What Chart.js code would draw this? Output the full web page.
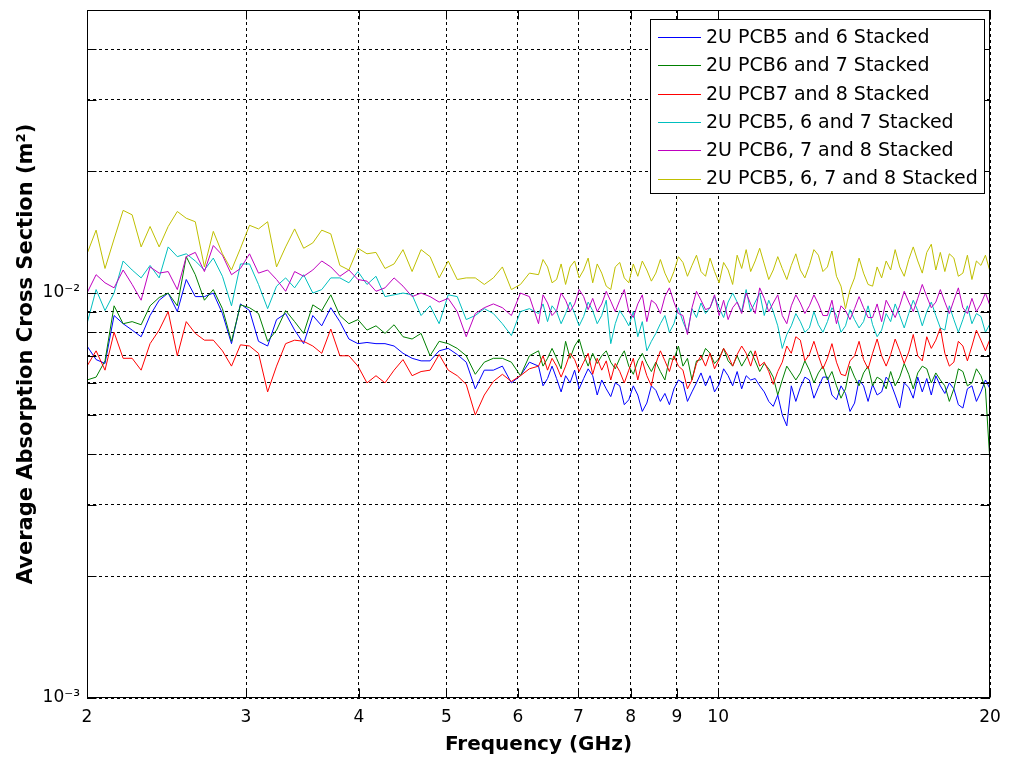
<!DOCTYPE html>
<html>
<head>
<meta charset="utf-8">
<script src="https://cdn.jsdelivr.net/npm/chart.js@4"></script>
<style>
  html, body { margin: 0; padding: 0; background: #fff; }
</style>
</head>
<body>
<canvas id="absChart" width="1009" height="760"></canvas>
<script>
// frequency samples (GHz): 0.01 decade apart up to 6.3 GHz, 0.005 decade above
const freqGHz = [
  2.000, 2.047, 2.094, 2.143, 2.193, 2.244, 2.296, 2.349, 2.404, 2.460,
  2.518, 2.576, 2.636, 2.698, 2.760, 2.825, 2.891, 2.958, 3.027, 3.097,
  3.170, 3.243, 3.319, 3.396, 3.475, 3.557, 3.639, 3.724, 3.811, 3.900,
  3.991, 4.084, 4.179, 4.276, 4.376, 4.477, 4.582, 4.688, 4.797, 4.909,
  5.024, 5.141, 5.260, 5.383, 5.508, 5.637, 5.768, 5.902, 6.040, 6.180,
  6.325,
  6.398, 6.472, 6.547, 6.623, 6.700, 6.777, 6.855, 6.935, 7.015, 7.096,
  7.178, 7.262, 7.346, 7.431, 7.517, 7.604, 7.692, 7.781, 7.871, 7.962,
  8.054, 8.147, 8.241, 8.337, 8.434, 8.531, 8.630, 8.730, 8.831, 8.933,
  9.036, 9.141, 9.247, 9.354, 9.462, 9.572, 9.683, 9.795, 9.908, 10.024,
  10.140, 10.257, 10.376, 10.496, 10.618, 10.740, 10.864, 10.990, 11.117, 11.247,
  11.377, 11.508, 11.641, 11.776, 11.912, 12.050, 12.190, 12.331, 12.474, 12.619,
  12.765, 12.912, 13.062, 13.213, 13.366, 13.521, 13.678, 13.836, 13.996, 14.159,
  14.323, 14.488, 14.656, 14.826, 14.998, 15.171, 15.347, 15.524, 15.704, 15.887,
  16.071, 16.257, 16.445, 16.635, 16.828, 17.022, 17.219, 17.419, 17.621, 17.825,
  18.031, 18.239, 18.450, 18.664, 18.880, 19.099, 19.320, 19.543, 19.769, 20.000
];

const seriesNames = [
  '2U PCB5 and 6 Stacked',
  '2U PCB6 and 7 Stacked',
  '2U PCB7 and 8 Stacked',
  '2U PCB5, 6 and 7 Stacked',
  '2U PCB6, 7 and 8 Stacked',
  '2U PCB5, 6, 7 and 8 Stacked'
];
const seriesColors = ['#0000ff', '#008000', '#ff0000', '#00bfbf', '#bf00bf', '#bfbf00'];

// average absorption cross section, in units of 1e-3 m^2
const pcb56 = [
  7.4, 6.85, 6.7, 8.8, 8.4, 8.1, 7.8, 8.8, 9.6, 10.0, 9.0, 10.8, 9.8,
  9.8, 10.0, 8.9, 7.5, 9.4, 9.05, 7.6, 7.4, 8.6, 8.9, 8.1, 7.5, 8.8,
  8.3, 9.2, 8.5, 7.7, 7.5, 7.55, 7.5, 7.5, 7.4, 7.1, 6.9, 6.8,
  6.8, 7.2, 7.3, 7.05, 6.75, 5.8, 6.45, 6.45, 6.6, 6.0, 6.25, 6.75, 6.6,
  5.9, 6.15, 6.6, 6.15, 5.7, 6.25, 6.0, 6.45, 5.8, 6.15, 6.5, 6.25, 5.6, 6.1, 5.8, 5.55,
  6.0, 5.9, 5.3, 5.45, 5.9, 5.6, 5.1, 5.35, 5.9, 5.75, 5.4, 5.65, 5.3, 5.8, 6.1, 6.0,
  5.4, 5.7, 6.0, 6.35, 5.9, 6.25, 5.7, 5.95, 6.5, 6.25, 5.9, 6.4, 5.8, 6.25, 6.1, 6.15,
  5.9, 5.7, 5.4, 5.25, 5.6, 5.0, 4.7, 5.9, 5.4, 5.85, 6.2, 6.1, 5.5, 5.85, 6.2, 6.2,
  5.6, 5.45, 5.9, 5.65, 5.1, 5.35, 6.1, 5.9, 5.4, 5.95, 5.6, 5.7, 6.2, 6.0, 5.6, 5.2,
  6.0, 5.85, 5.5, 6.2, 5.7, 6.15, 5.6, 6.25, 5.9, 5.65, 6.0, 5.8, 5.3, 5.2, 5.8, 5.9,
  5.4, 5.7, 6.1, 5.8
];
const pcb67 = [
  6.1, 6.2, 6.8, 9.3, 8.4, 8.5, 8.35, 9.3, 9.75, 10.0, 9.3, 12.3, 11.1,
  9.6, 10.2, 9.15, 7.6, 9.35, 9.2, 8.9, 7.6, 8.1, 9.05, 8.5, 7.95, 9.35,
  9.05, 9.9, 8.8, 8.4, 8.6, 8.1, 8.3, 7.95, 8.35, 7.8, 7.7, 7.95,
  7.0, 7.6, 7.5, 7.3, 7.0, 6.3, 6.75, 6.9, 6.9, 6.75, 6.25, 7.0, 7.2,
  6.6, 6.9, 7.3, 6.9, 6.5, 7.6, 6.9, 7.4, 7.7, 7.05, 6.6, 7.1, 6.7, 7.0, 7.2, 6.75,
  6.5, 6.9, 7.2, 6.6, 6.3, 6.8, 7.1, 6.7, 6.4, 6.75, 6.4, 6.1, 6.9, 6.85, 7.4, 6.6,
  6.9, 6.1, 6.8, 6.85, 7.3, 7.1, 6.7, 6.9, 7.3, 6.8, 6.6, 7.0, 6.6, 6.9, 7.2, 6.8,
  6.4, 6.7, 6.5, 6.2, 5.6, 6.1, 6.6, 6.35, 6.1, 6.35, 6.8, 6.45, 6.0, 6.35, 6.6, 6.1,
  6.4, 5.9, 5.5, 5.8, 6.6, 6.2, 5.9, 6.35, 6.6, 5.9, 6.2, 6.1, 5.8, 6.4, 5.9, 6.2,
  6.7, 6.3, 5.8, 6.35, 6.6, 6.5, 6.0, 6.35, 6.1, 5.9, 5.4, 5.8, 6.5, 6.4, 5.9, 6.0,
  6.5, 6.25, 5.8, 3.8
];
const pcb78 = [
  6.6, 7.2, 6.45, 8.0, 6.9, 6.9, 6.45, 7.5, 8.1, 9.0, 7.0, 8.5, 7.95,
  7.65, 7.65, 7.2, 6.6, 7.45, 7.4, 7.1, 5.7, 6.6, 7.5, 7.65, 7.6, 7.4,
  7.1, 8.15, 7.0, 7.0, 6.6, 6.0, 6.25, 6.0, 6.45, 6.85, 6.25, 6.4,
  6.45, 7.05, 6.45, 6.25, 5.95, 5.0, 5.6, 6.05, 6.3, 6.05, 6.25, 6.5, 6.6,
  7.0, 6.45, 6.9, 6.6, 6.2, 6.6, 7.1, 6.85, 6.4, 6.75, 7.1, 6.3, 6.9, 6.45, 6.8, 6.1,
  6.7, 6.4, 6.0, 6.45, 6.9, 6.1, 6.8, 6.25, 5.9, 6.7, 7.2, 6.8, 6.4, 7.0, 6.6, 6.45,
  5.8, 6.1, 6.7, 7.0, 6.6, 7.1, 6.5, 6.85, 7.3, 7.0, 6.6, 7.05, 7.4, 7.1, 6.6, 7.2,
  6.6, 6.75, 6.4, 5.95, 6.4, 6.75, 7.4, 7.1, 7.8, 7.65, 6.8, 7.05, 7.6, 7.0, 6.5, 6.9,
  7.5, 6.75, 6.3, 6.25, 6.8, 7.0, 7.6, 6.85, 6.5, 7.1, 7.7, 7.0, 6.6, 7.05, 7.7, 7.2,
  6.7, 7.15, 7.9, 7.0, 6.8, 7.8, 7.3, 7.65, 8.2, 7.1, 6.6, 6.75, 7.6, 7.4, 6.8, 7.4,
  8.1, 7.65, 7.2, 7.7
];
const pcb567 = [
  8.4, 10.2, 9.05, 10.0, 12.0, 11.4, 10.9, 11.7, 10.9, 13.0, 12.3, 12.5, 12.0,
  11.4, 12.2, 11.0, 9.3, 11.8, 11.8, 10.5, 9.15, 10.4, 10.9, 10.3, 11.1, 10.0,
  10.2, 10.9, 10.9, 10.6, 11.3, 10.5, 11.0, 9.8, 9.9, 10.0, 9.9, 8.8,
  9.3, 8.4, 9.9, 9.8, 8.6, 8.8, 9.15, 8.9, 8.4, 7.85, 9.0, 9.15, 8.9,
  9.4, 8.5, 9.3, 9.0, 8.4, 8.9, 9.5, 8.9, 8.3, 8.75, 9.5, 9.05, 8.4, 8.8, 9.6, 7.5,
  8.4, 9.05, 8.7, 8.3, 9.0, 7.8, 8.5, 7.2, 7.6, 7.95, 8.4, 8.8, 8.0, 8.4, 9.2, 8.5,
  8.0, 9.15, 8.7, 9.45, 8.9, 9.2, 9.8, 9.2, 8.7, 9.5, 10.0, 9.5, 9.0, 10.2, 9.0, 9.5,
  10.0, 8.8, 9.6, 9.0, 8.3, 7.3, 7.9, 8.3, 8.9, 8.5, 8.0, 8.2, 9.0, 8.35, 8.0, 8.5,
  9.2, 8.8, 8.0, 8.3, 9.1, 8.6, 8.2, 8.5, 9.3, 8.35, 7.8, 8.1, 8.9, 8.5, 9.4, 8.8,
  8.2, 8.9, 9.6, 9.05, 8.3, 9.0, 9.5, 8.8, 8.2, 8.1, 9.3, 8.6, 8.0, 8.6, 9.3, 8.4,
  8.9, 8.75, 8.0, 8.4
];
const pcb678 = [
  10.0, 11.1, 10.6, 10.3, 11.4, 10.5, 9.6, 11.6, 11.2, 11.3, 10.2, 12.3, 12.6,
  11.3, 13.1, 12.4, 11.1, 11.5, 12.5, 11.2, 11.4, 10.8, 10.1, 11.3, 11.0, 11.4,
  12.0, 11.6, 11.0, 11.4, 10.8, 10.7, 10.1, 10.3, 10.9, 10.4, 9.8, 10.0,
  9.8, 9.5, 9.7, 9.0, 7.8, 8.9, 9.2, 9.4, 9.2, 8.8, 10.0, 9.8, 8.4,
  9.9, 9.45, 8.8, 9.05, 10.0, 9.6, 9.0, 9.4, 10.2, 9.8, 9.1, 9.7, 9.0, 9.4, 10.1, 9.55,
  9.0, 9.6, 10.2, 9.0, 8.7, 9.4, 9.9, 8.5, 9.6, 9.4, 8.9, 9.8, 10.3, 9.5, 8.9, 8.8,
  7.9, 9.2, 10.1, 9.6, 9.1, 9.2, 9.9, 8.8, 9.6, 8.6, 9.2, 9.5, 8.9, 10.0, 9.4, 8.9,
  10.3, 9.7, 9.0, 9.45, 9.9, 8.8, 8.4, 9.3, 9.9, 9.45, 8.9, 9.3, 9.9, 9.4, 8.8, 8.8,
  9.6, 8.4, 9.3, 9.05, 8.6, 9.15, 9.8, 9.2, 8.7, 8.7, 9.4, 8.5, 9.6, 9.15, 8.7, 9.3,
  10.1, 9.5, 9.0, 9.7, 10.5, 9.8, 9.2, 9.5, 10.2, 9.5, 8.9, 9.6, 10.3, 9.2, 8.9, 9.7,
  9.0, 9.4, 10.0, 9.3
];
const pcb5678 = [
  12.5, 14.3, 11.5, 13.6, 16.0, 15.6, 13.0, 14.6, 13.0, 14.6, 15.9, 15.3, 15.0,
  11.6, 14.2, 12.5, 11.4, 12.9, 14.7, 14.4, 15.0, 11.6, 13.0, 14.4, 12.9, 13.3,
  14.3, 14.0, 11.7, 11.4, 12.9, 12.5, 12.6, 11.5, 11.8, 12.8, 11.3, 12.8,
  12.3, 10.9, 12.0, 10.8, 10.9, 10.9, 10.5, 10.9, 11.6, 10.2, 10.5, 11.2, 11.1,
  12.1, 11.6, 10.6, 10.8, 11.8, 10.5, 11.6, 12.0, 10.9, 11.4, 12.2, 10.6, 11.8, 11.2, 10.4, 10.2,
  11.6, 11.9, 10.9, 10.6, 11.8, 11.0, 12.0, 11.4, 10.7, 11.2, 12.1, 11.2, 10.6, 11.3, 12.3, 11.9,
  11.0, 11.7, 12.4, 11.3, 11.0, 12.2, 11.3, 10.6, 11.9, 11.4, 10.5, 12.4, 11.5, 12.8, 11.3, 12.0,
  12.9, 11.8, 10.8, 11.4, 12.3, 11.5, 10.8, 11.7, 12.5, 11.4, 10.9, 11.7, 12.8, 12.4, 11.3, 11.6,
  12.7, 11.0, 10.4, 9.15, 10.2, 10.9, 12.2, 11.2, 10.5, 10.4, 11.6, 10.9, 12.0, 11.4, 12.8, 11.6,
  11.0, 12.1, 13.0, 12.0, 11.2, 12.6, 13.2, 11.4, 12.6, 11.3, 12.5, 12.2, 11.0, 11.2, 12.4, 10.8,
  12.0, 11.7, 12.4, 11.3
];

const xTickValues = [2, 3, 4, 5, 6, 7, 8, 9, 10, 20];
const xTickLabels = ['2', '3', '4', '5', '6', '7', '8', '9', '10', '20'];
const yTickValues = [0.001, 0.002, 0.003, 0.004, 0.005, 0.006, 0.007, 0.008, 0.009,
  0.01, 0.02, 0.03, 0.04, 0.05];
const yTickLabels = ['10\u207B\u00B3', '', '', '', '', '', '', '', '',
  '10\u207B\u00B2', '', '', '', ''];

const FONT = "'DejaVu Sans', sans-serif";

const seriesValues = [pcb56, pcb67, pcb78, pcb567, pcb678, pcb5678];
const datasets = seriesValues.map((vals, i) => ({
  label: seriesNames[i],
  data: vals.map((v, k) => ({ x: freqGHz[k], y: v * 1e-3 })),
  borderColor: seriesColors[i],
  backgroundColor: seriesColors[i],
  borderWidth: 1,
  pointRadius: 0,
  tension: 0,
  order: seriesValues.length - i   // later series on top, as in the original
}));

// box round the axes, inward tick marks and the legend box
const framePlugin = {
  id: 'frame',
  afterDraw(chart) {
    const { ctx, chartArea: a, scales: { x, y } } = chart;
    const L = Math.round(a.left) + 0.5, R = Math.round(a.right) - 0.5;
    const T = Math.round(a.top) + 0.5, B = Math.round(a.bottom) - 0.5;
    ctx.save();
    ctx.strokeStyle = '#000';
    ctx.lineWidth = 1;
    ctx.setLineDash([]);
    ctx.strokeRect(L, T, R - L, B - T);
    ctx.beginPath();
    xTickValues.forEach(v => {
      const px = Math.round(x.getPixelForValue(v)) + 0.5;
      ctx.moveTo(px, B); ctx.lineTo(px, B - 9);
      ctx.moveTo(px, T); ctx.lineTo(px, T + 9);
    });
    yTickValues.forEach(v => {
      const py = Math.round(y.getPixelForValue(v)) + 0.5;
      ctx.moveTo(L, py); ctx.lineTo(L + 9, py);
      ctx.moveTo(R, py); ctx.lineTo(R - 9, py);
    });
    ctx.stroke();

    // legend
    const lx = 650.5, ly = 19.5, lw = 334, lh = 174;
    ctx.fillStyle = '#fff';
    ctx.fillRect(lx, ly, lw, lh);
    ctx.strokeRect(lx, ly, lw, lh);
    ctx.font = '19px ' + FONT;
    ctx.textBaseline = 'middle';
    ctx.textAlign = 'left';
    seriesNames.forEach((name, i) => {
      const cy = 37 + i * 28.3;
      ctx.strokeStyle = seriesColors[i];
      ctx.beginPath();
      ctx.moveTo(658, Math.round(cy) + 0.5);
      ctx.lineTo(701, Math.round(cy) + 0.5);
      ctx.stroke();
      ctx.fillStyle = '#000';
      ctx.fillText(name, 706, cy + 1);
    });
    ctx.restore();
  }
};

new Chart(document.getElementById('absChart'), {
  type: 'line',
  data: { datasets },
  options: {
    responsive: false,
    animation: false,
    layout: { padding: { left: 0, right: 19, top: 10, bottom: 0 } },
    plugins: { legend: { display: false }, tooltip: { enabled: false } },
    scales: {
      x: {
        type: 'logarithmic',
        min: 2,
        max: 20,
        afterBuildTicks: s => { s.ticks = xTickValues.map(v => ({ value: v })); },
        afterFit: s => { s.height = 62; s.paddingLeft = 0; s.paddingRight = 0; },
        grid: { color: '#000', lineWidth: 1, drawTicks: false },
        border: { display: false, dash: [3, 3] },
        ticks: {
          color: '#000',
          font: { family: FONT, size: 17 },
          padding: 9,
          autoSkip: false,
          maxRotation: 0,
          callback: (v, i) => xTickLabels[i]
        },
        title: {
          display: true,
          text: 'Frequency (GHz)',
          color: '#000',
          font: { family: FONT, size: 20, weight: 'bold' },
          padding: { top: 0, bottom: 3 }
        }
      },
      y: {
        type: 'logarithmic',
        min: 0.001,
        max: 0.05,
        afterBuildTicks: s => { s.ticks = yTickValues.map(v => ({ value: v })); },
        afterFit: s => { s.width = 87; s.paddingTop = 0; s.paddingBottom = 0; },
        grid: { color: '#000', lineWidth: 1, drawTicks: false },
        border: { display: false, dash: [3, 3] },
        ticks: {
          color: '#000',
          font: { family: FONT, size: 17 },
          padding: 7,
          autoSkip: false,
          callback: (v, i) => yTickLabels[i]
        },
        title: {
          display: true,
          text: 'Average Absorption Cross Section (m\u00B2)',
          color: '#000',
          font: { family: FONT, size: 21, weight: 'bold' },
          padding: { top: 14, bottom: 0 }
        }
      }
    }
  },
  plugins: [framePlugin]
});
</script>
</body>
</html>
